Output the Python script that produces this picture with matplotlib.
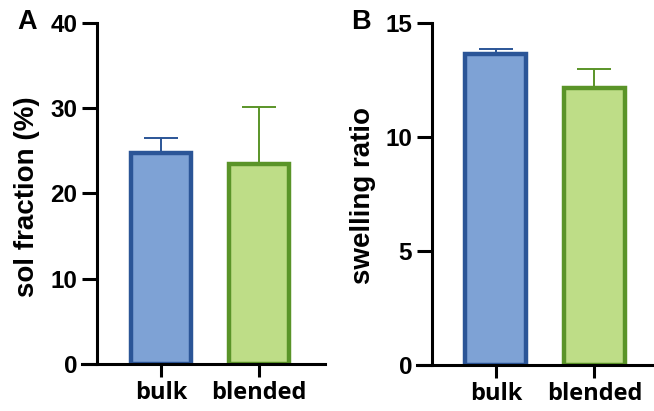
import matplotlib
matplotlib.use("Agg")
import matplotlib.pyplot as plt

plt.rcParams['font.family'] = ['Liberation Sans', 'DejaVu Sans']
plt.rcParams['font.weight'] = 'bold'

categories = ["bulk", "blended"]
sol_fraction = [24.7, 23.5]
sol_fraction_err = [1.8, 6.6]
swelling_ratio = [13.62, 12.15]
swelling_ratio_err = [0.25, 0.85]

fill_colors = ["#7EA2D5", "#BEDD87"]
edge_colors = ["#2B5597", "#5A9428"]

W, H = 654, 411
fig = plt.figure(figsize=(W / 100, H / 100), dpi=100)

def make_panel(rect, values, errs, ylim, yticks, ylabel, letter, letter_xy, ylabel_xy, xlim):
    ax = fig.add_axes(rect)
    x = list(range(len(categories)))
    for i in x:
        ax.errorbar([i], [values[i]], yerr=[[0], [errs[i]]], fmt='none',
                    ecolor=edge_colors[i], elinewidth=1.4, capsize=12, capthick=1.4, zorder=1)
    ax.bar(x, values, width=0.62, color=fill_colors, edgecolor=edge_colors,
           linewidth=3.2, zorder=2)
    ax.set_xlim(*xlim)
    ax.set_ylim(*ylim)
    ax.set_yticks(yticks)
    ax.set_xticks(x)
    ax.set_xticklabels(categories, fontsize=17, fontweight='bold',
                       fontfamily=['Open Sans', 'DejaVu Sans'])
    ax.set_yticklabels([str(t) for t in yticks], fontsize=17.5, fontweight='bold')
    for s in ['top', 'right']:
        ax.spines[s].set_visible(False)
    ax.spines['left'].set_linewidth(2.2)
    ax.spines['bottom'].set_visible(False)
    ax.tick_params(axis='y', length=10.8, width=2.2, pad=3.5, colors='black')
    ax.tick_params(axis='x', length=9.4, width=2.2, pad=3, colors='black')
    pos = ax.get_position()
    ext = (10.8 / 72 * 100) / (pos.width * W)
    ax.plot([-ext, 1], [0, 0], transform=ax.transAxes, color='black',
            linewidth=2.2, clip_on=False, solid_capstyle='projecting', zorder=3)
    fig.text(ylabel_xy[0] / W, 1 - ylabel_xy[1] / H, ylabel, rotation=90, fontsize=20,
             fontweight='bold', ha='center', va='center')
    fig.text(letter_xy[0] / W, 1 - letter_xy[1] / H, letter, fontsize=19.5, fontweight='bold',
             ha='left', va='center')
    return ax

make_panel([97 / W, 1 - 364 / H, (325 - 97) / W, (364 - 23) / H],
           sol_fraction, sol_fraction_err, (0, 40), [0, 10, 20, 30, 40],
           "sol fraction (%)", "A", (17, 22), (27, 197), (-0.653, 1.673))
make_panel([432 / W, 1 - 365 / H, (653 - 432) / W, (365 - 23) / H],
           swelling_ratio, swelling_ratio_err, (0, 15), [0, 5, 10, 15],
           "swelling ratio", "B", (351, 22), (363, 195), (-0.649, 1.595))

fig.savefig("out.png", dpi=100)
